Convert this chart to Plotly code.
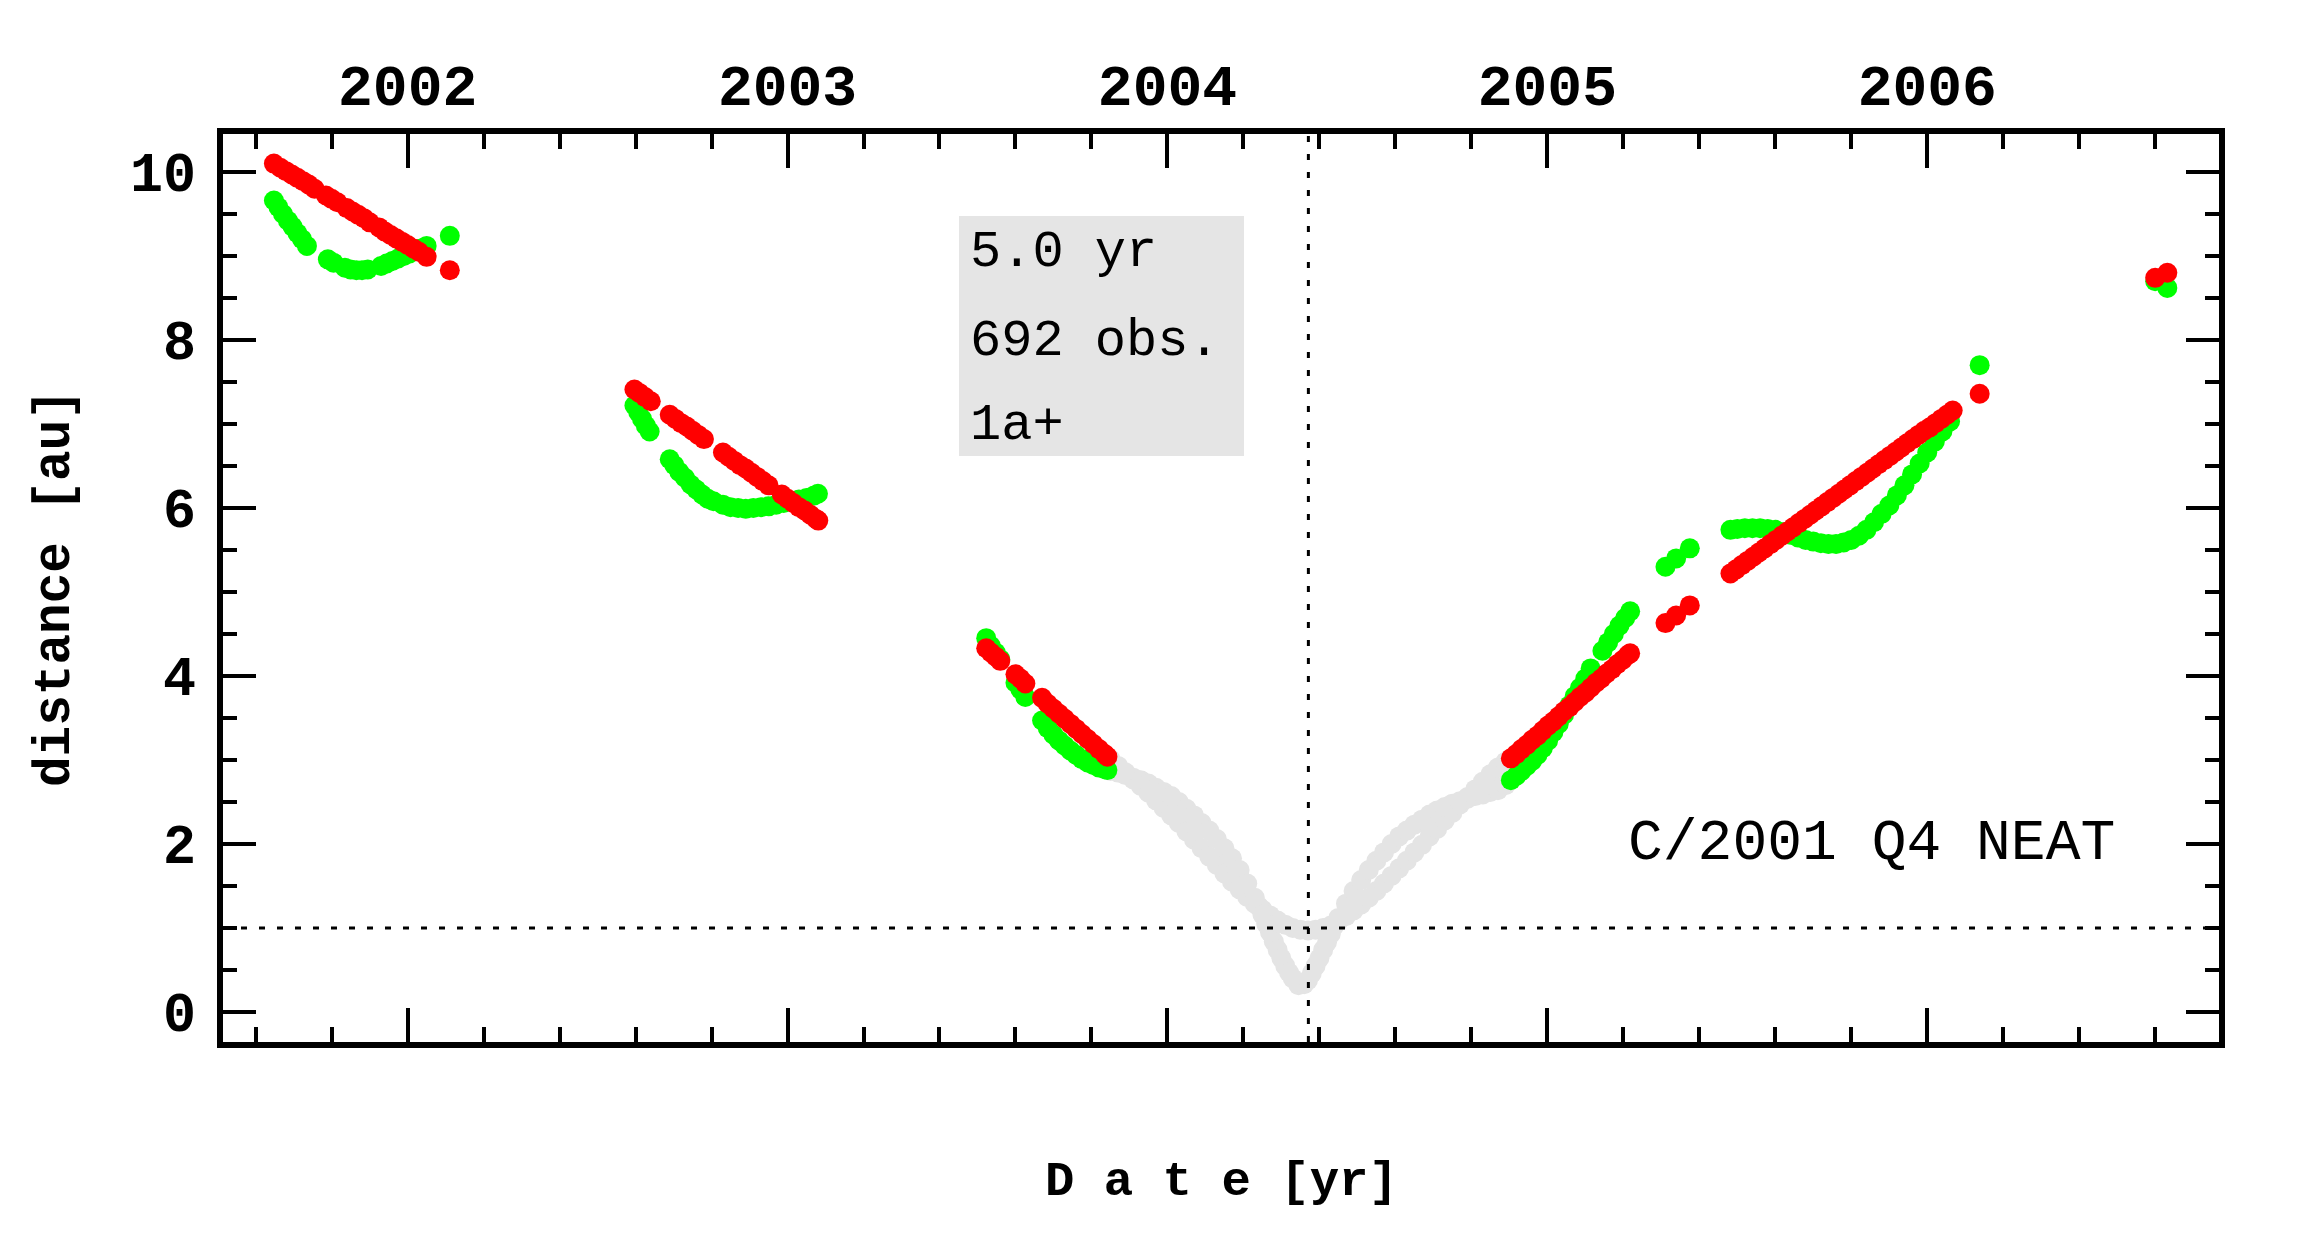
import plotly.graph_objects as go

# ---------------- data ----------------
# geocentric distance (green)
green_x = [2001.648, 2001.660, 2001.672, 2001.685, 2001.697, 2001.710, 2001.722, 2001.735,
           2001.790, 2001.805,
           2001.835, 2001.850, 2001.865, 2001.880, 2001.895,
           2001.930, 2001.945, 2001.960, 2001.975, 2001.990, 2002.005, 2002.020, 2002.035, 2002.050,
           2002.111,
           2002.597, 2002.607, 2002.617, 2002.627, 2002.637,
           2002.690, 2002.702, 2002.715, 2002.730, 2002.745, 2002.760, 2002.775, 2002.790, 2002.805,
           2002.830, 2002.850, 2002.870, 2002.890, 2002.910, 2002.930, 2002.950, 2002.970, 2002.990,
           2003.010, 2003.030, 2003.050, 2003.070, 2003.080,
           2003.523, 2003.535, 2003.548, 2003.560,
           2003.600, 2003.613, 2003.626,
           2003.670, 2003.685, 2003.700, 2003.715, 2003.730, 2003.745, 2003.760, 2003.775, 2003.790,
           2003.805, 2003.820, 2003.835, 2003.842,
           2004.904, 2004.918, 2004.932, 2004.946, 2004.960, 2004.974, 2004.988, 2005.002, 2005.016,
           2005.030, 2005.044, 2005.058, 2005.072, 2005.086, 2005.100, 2005.114,
           2005.145, 2005.160, 2005.175, 2005.190, 2005.205, 2005.218,
           2005.311, 2005.339, 2005.375,
           2005.482, 2005.500, 2005.520, 2005.540, 2005.560, 2005.580, 2005.600, 2005.620, 2005.640,
           2005.660, 2005.680, 2005.700, 2005.720, 2005.740, 2005.760, 2005.780, 2005.800, 2005.820,
           2005.840, 2005.860, 2005.880, 2005.900, 2005.920, 2005.940, 2005.960, 2005.980, 2006.000,
           2006.020, 2006.040, 2006.060,
           2006.138,
           2006.600, 2006.632]
green_y = [9.66, 9.58, 9.50, 9.42, 9.35, 9.27, 9.20, 9.12,
           8.96, 8.92,
           8.86, 8.84, 8.83, 8.83, 8.84,
           8.88, 8.91, 8.94, 8.97, 9.00, 9.03, 9.06, 9.09, 9.12,
           9.24,
           7.22, 7.14, 7.06, 6.98, 6.91,
           6.58, 6.51, 6.43, 6.36, 6.28, 6.22, 6.16, 6.11, 6.08,
           6.04, 6.01, 6.00, 5.99, 6.00, 6.01, 6.02, 6.04, 6.06,
           6.08, 6.10, 6.12, 6.15, 6.17,
           4.45, 4.36, 4.28, 4.20,
           3.92, 3.84, 3.75,
           3.47, 3.38, 3.30, 3.23, 3.17, 3.11, 3.06, 3.01, 2.97,
           2.94, 2.91, 2.89, 2.88,
           2.76, 2.81, 2.87, 2.93, 2.99, 3.06, 3.14, 3.23, 3.33,
           3.43, 3.54, 3.65, 3.76, 3.86, 3.97, 4.09,
           4.30, 4.40, 4.50, 4.60, 4.69, 4.77,
           5.30, 5.40, 5.52,
           5.74, 5.75, 5.76, 5.76, 5.76, 5.75, 5.74, 5.71, 5.68,
           5.65, 5.62, 5.60, 5.58, 5.57, 5.57, 5.59, 5.62, 5.67,
           5.74, 5.83, 5.93, 6.03, 6.15, 6.27, 6.40, 6.53, 6.66,
           6.79, 6.91, 7.03,
           7.70,
           8.70, 8.62]

# heliocentric distance (red)
red_x = [2001.648, 2001.665, 2001.680, 2001.695, 2001.710, 2001.725, 2001.740, 2001.755,
         2001.785, 2001.800, 2001.815,
         2001.840, 2001.855, 2001.870, 2001.885, 2001.900,
         2001.925, 2001.940, 2001.955, 2001.970, 2001.985, 2002.000, 2002.015, 2002.030, 2002.050,
         2002.111,
         2002.597, 2002.610, 2002.625, 2002.640,
         2002.690, 2002.705, 2002.720, 2002.735, 2002.750, 2002.765, 2002.780,
         2002.830, 2002.845, 2002.860, 2002.875, 2002.890, 2002.905, 2002.920, 2002.935, 2002.950,
         2002.985, 2003.000, 2003.015, 2003.030, 2003.045, 2003.060, 2003.075, 2003.081,
         2003.523, 2003.535, 2003.548, 2003.560,
         2003.600, 2003.613, 2003.626,
         2003.670, 2003.685, 2003.700, 2003.715, 2003.730, 2003.745, 2003.760, 2003.775, 2003.790,
         2003.805, 2003.820, 2003.835, 2003.842,
         2004.904, 2004.918, 2004.932, 2004.946, 2004.960, 2004.974, 2004.988, 2005.002, 2005.016,
         2005.030, 2005.044, 2005.058, 2005.072, 2005.086, 2005.100, 2005.114, 2005.128, 2005.142,
         2005.156, 2005.170, 2005.184, 2005.198, 2005.212, 2005.218,
         2005.311, 2005.339, 2005.375,
         2005.482, 2005.497, 2005.512, 2005.527, 2005.542, 2005.557, 2005.572, 2005.587, 2005.602,
         2005.617, 2005.632, 2005.647, 2005.662, 2005.677, 2005.692, 2005.707, 2005.722, 2005.737,
         2005.752, 2005.767, 2005.782, 2005.797, 2005.812, 2005.827, 2005.842, 2005.857, 2005.872,
         2005.887, 2005.902, 2005.917, 2005.932, 2005.947, 2005.962, 2005.977, 2005.992, 2006.007,
         2006.022, 2006.037, 2006.052, 2006.067,
         2006.138,
         2006.600, 2006.632]
red_y = [10.10, 10.05, 10.01, 9.97, 9.93, 9.89, 9.85, 9.80,
         9.72, 9.68, 9.64,
         9.57, 9.53, 9.49, 9.45, 9.40,
         9.34, 9.29, 9.25, 9.21, 9.17, 9.13, 9.09, 9.05, 8.99,
         8.83,
         7.41, 7.37, 7.32, 7.27,
         7.11, 7.06, 7.01, 6.97, 6.92, 6.87, 6.82,
         6.66, 6.61, 6.56, 6.51, 6.47, 6.42, 6.37, 6.32, 6.27,
         6.16, 6.11, 6.06, 6.01, 5.97, 5.92, 5.87, 5.85,
         4.33, 4.28, 4.23, 4.18,
         4.02, 3.97, 3.91,
         3.74, 3.67, 3.61, 3.55, 3.49, 3.43, 3.37, 3.31, 3.25,
         3.19, 3.13, 3.07, 3.04,
         3.02, 3.07, 3.13, 3.18, 3.24, 3.29, 3.35, 3.41, 3.46,
         3.52, 3.58, 3.63, 3.69, 3.75, 3.80, 3.86, 3.92, 3.97,
         4.03, 4.08, 4.14, 4.19, 4.25, 4.27,
         4.63, 4.72, 4.84,
         5.22, 5.27, 5.32, 5.37, 5.42, 5.47, 5.52, 5.57, 5.62,
         5.67, 5.72, 5.77, 5.82, 5.87, 5.92, 5.97, 6.02, 6.07,
         6.12, 6.17, 6.22, 6.27, 6.32, 6.37, 6.42, 6.47, 6.52,
         6.57, 6.62, 6.67, 6.72, 6.77, 6.82, 6.87, 6.92, 6.96,
         7.01, 7.06, 7.11, 7.16,
         7.36,
         8.74, 8.80]

# unobserved part of the orbit (grey): heliocentric and geocentric strands
gray_r_x = [2003.850, 2003.870, 2003.890, 2003.910, 2003.930, 2003.950, 2003.970, 2003.990,
            2004.010, 2004.030, 2004.050, 2004.070, 2004.090, 2004.110, 2004.130, 2004.150,
            2004.170, 2004.190, 2004.210, 2004.230, 2004.250, 2004.270, 2004.290, 2004.310,
            2004.330, 2004.350, 2004.370, 2004.390, 2004.410, 2004.430, 2004.450, 2004.470,
            2004.490, 2004.510, 2004.530, 2004.550, 2004.570, 2004.590, 2004.610, 2004.630,
            2004.650, 2004.670, 2004.690, 2004.710, 2004.730, 2004.750, 2004.770, 2004.790,
            2004.810, 2004.830, 2004.850, 2004.870, 2004.890]
gray_r_y = [3.01, 2.93, 2.85, 2.77, 2.69, 2.61, 2.52, 2.43,
            2.34, 2.25, 2.15, 2.05, 1.95, 1.85, 1.75, 1.65,
            1.55, 1.46, 1.37, 1.29, 1.22, 1.15, 1.09, 1.04,
            1.00, 0.98, 0.97, 0.98, 1.00, 1.03, 1.08, 1.14,
            1.21, 1.28, 1.36, 1.44, 1.53, 1.62, 1.71, 1.80,
            1.90, 1.99, 2.09, 2.18, 2.28, 2.37, 2.47, 2.56,
            2.65, 2.74, 2.83, 2.91, 2.98]
gray_d_x = [2003.850, 2003.870, 2003.890, 2003.910, 2003.930, 2003.950, 2003.970, 2003.990,
            2004.010, 2004.030, 2004.050, 2004.070, 2004.090, 2004.110, 2004.130, 2004.150,
            2004.170, 2004.190, 2004.210, 2004.230, 2004.240, 2004.250, 2004.260, 2004.270,
            2004.280, 2004.290, 2004.300, 2004.310, 2004.320, 2004.330, 2004.345, 2004.360,
            2004.370, 2004.380, 2004.390, 2004.400, 2004.410, 2004.420, 2004.430, 2004.440,
            2004.450, 2004.470, 2004.490, 2004.510, 2004.530, 2004.550, 2004.570, 2004.590,
            2004.610, 2004.630, 2004.650, 2004.670, 2004.690, 2004.710, 2004.730, 2004.750,
            2004.770, 2004.790, 2004.810, 2004.830, 2004.850, 2004.870, 2004.890]
gray_d_y = [2.87, 2.85, 2.82, 2.79, 2.76, 2.72, 2.67, 2.62,
            2.57, 2.50, 2.42, 2.34, 2.25, 2.16, 2.06, 1.95,
            1.83, 1.69, 1.53, 1.36, 1.26, 1.16, 1.05, 0.95,
            0.84, 0.74, 0.64, 0.55, 0.47, 0.40, 0.32, 0.33,
            0.38, 0.46, 0.55, 0.64, 0.74, 0.83, 0.93, 1.03,
            1.12, 1.29, 1.44, 1.57, 1.69, 1.80, 1.90, 2.00,
            2.09, 2.16, 2.23, 2.29, 2.35, 2.40, 2.44, 2.48,
            2.51, 2.54, 2.57, 2.59, 2.62, 2.64, 2.70]

year_ticks = [2002, 2003, 2004, 2005, 2006]
year_labels = ["2002", "2003", "2004", "2005", "2006"]
y_ticks = [0, 2, 4, 6, 8, 10]
y_labels = ["0", "2", "4", "6", "8", "10"]

perihelion = 2004.371
info_lines = ["5.0 yr", "692 obs.", "1a+"]
comet_name = "C/2001 Q4 NEAT"

# ---------------- layout geometry ----------------
PAGE_W, PAGE_H = 2300, 1242
BODY = 8                               # default page margin around the plot div
W, H = PAGE_W - 2 * BODY, PAGE_H - 2 * BODY
L, R, T, B = 223, 2219, 134, 1042     # inner plot-area edges in page pixels
XR = [2001.514, 2006.768]
YR = [-0.357, 10.452]


def px(xp):
    return (xp - L) / (R - L)


def py(yp):
    return (B - yp) / (B - T)


MS = 20
fig = go.Figure()
fig.add_trace(go.Scatter(x=gray_r_x, y=gray_r_y, mode="markers",
                         marker=dict(size=MS, color="#e4e4e4", line=dict(width=0)),
                         hoverinfo="skip", showlegend=False))
fig.add_trace(go.Scatter(x=gray_d_x, y=gray_d_y, mode="markers",
                         marker=dict(size=MS, color="#e4e4e4", line=dict(width=0)),
                         hoverinfo="skip", showlegend=False))
fig.add_trace(go.Scatter(x=green_x, y=green_y, mode="markers",
                         marker=dict(size=MS, color="#00ff00", line=dict(width=0)),
                         showlegend=False))
fig.add_trace(go.Scatter(x=red_x, y=red_y, mode="markers",
                         marker=dict(size=MS, color="#ff0000", line=dict(width=0)),
                         showlegend=False))

xtickfont = dict(family="Liberation Mono", size=58, color="black", weight="bold")
ytickfont = dict(family="Liberation Mono", size=55, color="black", weight="bold")

fig.update_layout(
    template="none",
    width=W, height=H,
    margin=dict(l=L - BODY, r=(PAGE_W - BODY) - R, t=T - BODY, b=(PAGE_H - BODY) - B,
                pad=0, autoexpand=False),
    paper_bgcolor="white", plot_bgcolor="white",
    showlegend=False,
    xaxis=dict(range=XR, side="top", tickmode="array", tickvals=year_ticks, ticktext=year_labels,
               automargin=False,
               ticks="inside", ticklen=34, tickwidth=4, tickcolor="black",
               showline=True, linewidth=6, linecolor="black", mirror="ticks",
               showgrid=False, zeroline=False, tickfont=xtickfont, ticklabelstandoff=0,
               minor=dict(ticks="inside", ticklen=15, tickwidth=4, tickcolor="black",
                          dtick=0.2, tick0=2002, showgrid=False)),
    yaxis=dict(range=YR, tickmode="array", tickvals=y_ticks, ticktext=y_labels,
               automargin=False,
               ticks="inside", ticklen=33, tickwidth=4, tickcolor="black",
               showline=True, linewidth=6, linecolor="black", mirror="ticks",
               showgrid=False, zeroline=False, tickfont=ytickfont, ticklabelstandoff=10,
               minor=dict(ticks="inside", ticklen=14, tickwidth=4, tickcolor="black",
                          dtick=0.5, tick0=0, showgrid=False)),
    shapes=[
        dict(type="rect", xref="paper", yref="paper",
             x0=px(959), x1=px(1244), y0=py(456), y1=py(216),
             fillcolor="#e5e5e5", line=dict(width=0), layer="below"),
        dict(type="line", xref="x", yref="paper", x0=perihelion, x1=perihelion, y0=0, y1=1,
             line=dict(color="black", width=3, dash="6px,12px"), layer="above"),
        dict(type="line", xref="paper", yref="y", x0=0, x1=1, y0=1, y1=1,
             line=dict(color="black", width=3, dash="6px,12px"), layer="above"),
    ],
)

annos = []
for i, line in enumerate(info_lines):
    annos.append(dict(text=line, xref="paper", yref="paper", x=px(968), y=py([252, 341, 426][i]),
                      xanchor="left", yanchor="middle", showarrow=False,
                      font=dict(family="Liberation Mono", size=52, color="black")))
annos.append(dict(text=comet_name, xref="paper", yref="paper", x=px(1871), y=py(843),
                  xanchor="center", yanchor="middle", showarrow=False,
                  font=dict(family="Liberation Mono", size=58, color="black")))
annos.append(dict(text="D a t e [yr]", xref="paper", yref="paper", x=px(1221), y=py(1182),
                  xanchor="center", yanchor="middle", showarrow=False,
                  font=dict(family="Liberation Mono", size=49, color="black", weight="bold")))
annos.append(dict(text="distance [au]", xref="paper", yref="paper", x=px(55), y=py(588),
                  xanchor="center", yanchor="middle", showarrow=False, textangle=-90,
                  font=dict(family="Liberation Mono", size=51, color="black", weight="bold")))
fig.update_layout(annotations=annos)

fig.write_html("out.html")
